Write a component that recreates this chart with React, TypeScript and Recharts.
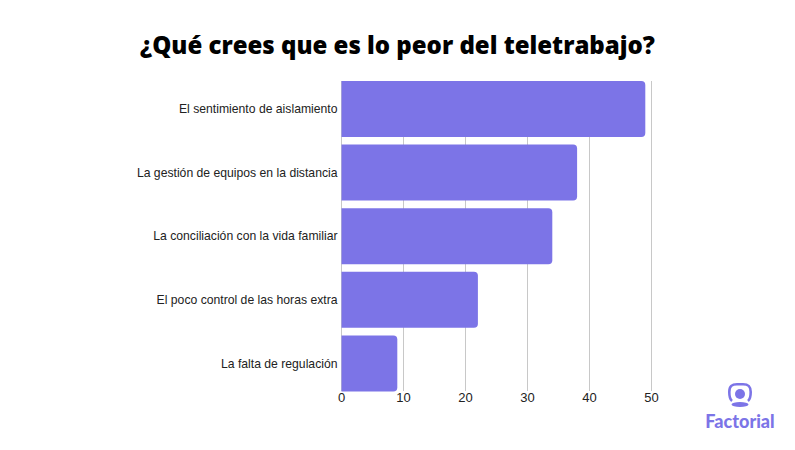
import { BarChart, Bar, XAxis, YAxis, CartesianGrid } from 'recharts';

const categories = [
  'El sentimiento de aislamiento',
  'La gestión de equipos en la distancia',
  'La conciliación con la vida familiar',
  'El poco control de las horas extra',
  'La falta de regulación',
];
const values = [49, 38, 34, 22, 9];
const xTicks = [0, 10, 20, 30, 40, 50];

const data = categories.map((name, i) => ({ name, value: values[i] }));

const PURPLE = '#7c74e7';

export default function App() {
  return (
    <div style={{ position: 'absolute', left: 0, top: 0, width: 795, height: 450, background: '#fff', overflow: 'hidden' }}>
      <div
        style={{
          position: 'absolute',
          left: 0,
          top: 25,
          width: 795,
          textAlign: 'center',
          fontFamily: '"Open Sans", sans-serif',
          fontWeight: 800,
          fontSize: 24,
          lineHeight: '40px',
          color: '#000',
        }}
      >
        ¿Qué crees que es lo peor del teletrabajo?
      </div>

      <BarChart
        width={795}
        height={450}
        data={data}
        layout="vertical"
        margin={{ top: 81, right: 143.5, bottom: 29, left: 0.5 }}
        barSize={56}
      >
        <CartesianGrid horizontal={false} stroke="#c8c8c8" strokeWidth={1} />
        <XAxis
          type="number"
          domain={[0, 50]}
          ticks={xTicks}
          height={30}
          axisLine={false}
          tickLine={false}
          tickSize={2}
          tickMargin={0}
          interval={0}
          tick={{ fontSize: 13, fill: '#222', fontFamily: '"Liberation Sans", Arial, sans-serif' }}
        />
        <YAxis
          type="category"
          dataKey="name"
          width={341}
          axisLine={false}
          tickLine={false}
          tickSize={0}
          tickMargin={4}
          interval={0}
          padding={{ top: -4, bottom: -4 }}
          tick={{ fontSize: 12.2, fill: '#222', fontFamily: '"Liberation Sans", Arial, sans-serif' }}
        />
        <Bar dataKey="value" fill={PURPLE} radius={[0, 4, 4, 0]} isAnimationActive={false} />
      </BarChart>

      {/* Factorial logo */}
      <svg width={30} height={30} style={{ position: 'absolute', left: 726, top: 380 }} viewBox="0 0 30 30">
        <path
          d="M6 21 C3.5 19 3.3 16 3.3 12 C3.3 6 6 4.3 11 4.3 H17 C22 4.3 24.7 6 24.7 12 C24.7 16 24.5 19 22 21"
          fill="none"
          stroke={PURPLE}
          strokeWidth={2.6}
        />
        <circle cx={14} cy={14} r={5} fill={PURPLE} />
        <ellipse cx={14} cy={24.5} rx={8.5} ry={2.5} fill={PURPLE} />
      </svg>
      <div
        style={{
          position: 'absolute',
          left: 700,
          top: 410,
          width: 80,
          textAlign: 'center',
          fontFamily: 'Lato, sans-serif',
          fontWeight: 900,
          fontSize: 18,
          lineHeight: '22px',
          color: PURPLE,
        }}
      >
        Factorial
      </div>
    </div>
  );
}
